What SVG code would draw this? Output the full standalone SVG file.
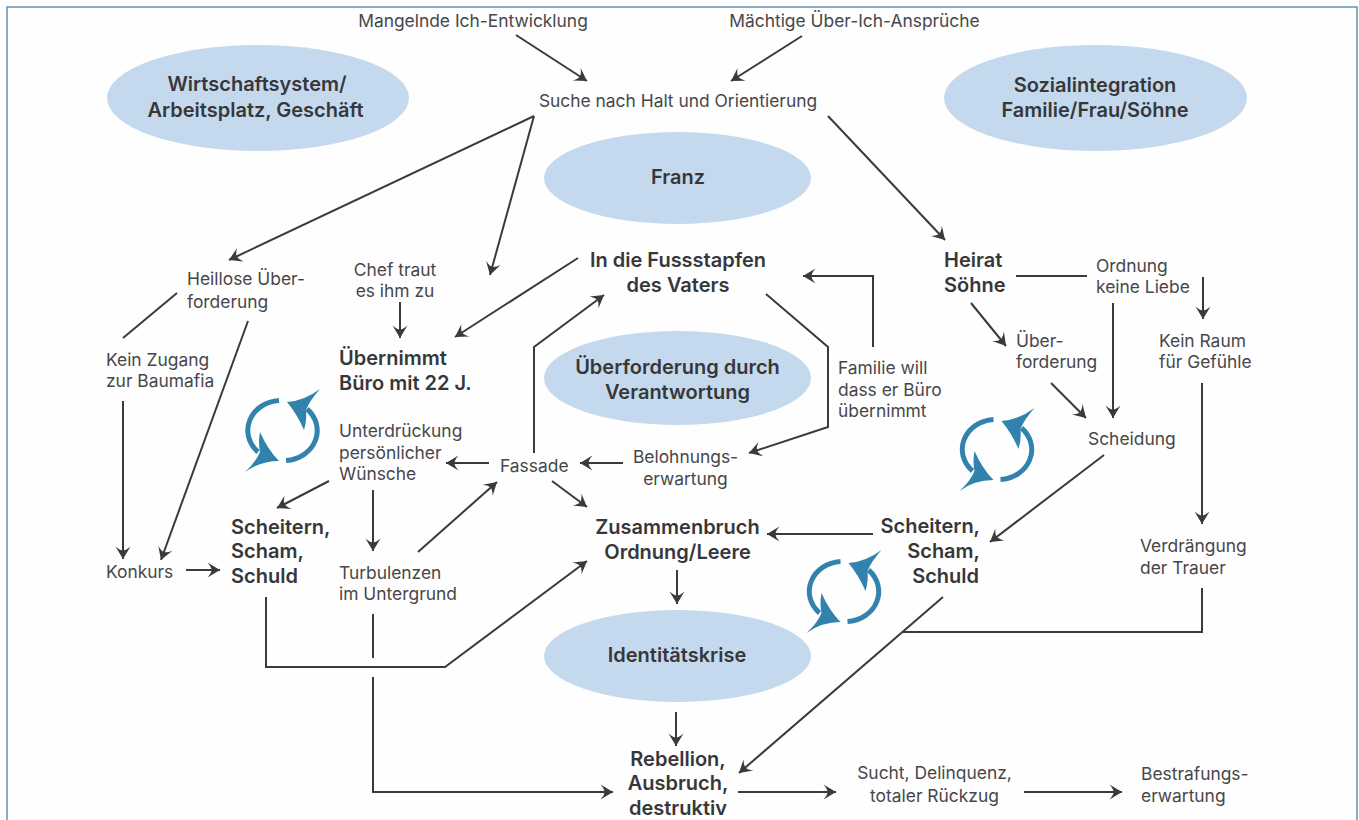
<svg xmlns="http://www.w3.org/2000/svg" width="1359" height="820" viewBox="0 0 1359 820">
<style>
text{font-family:"Inter","Liberation Sans",sans-serif;font-size:17.4px;fill:#47474a}
.b{font-weight:600;font-size:20px;fill:#37373a}
.m{text-anchor:middle}
.r{text-anchor:end}
.c line,.c polyline{fill:none;stroke:#3a3a3c;stroke-width:2}
.e{fill:#c4d9ed}
.ic path.s{fill:none;stroke:#3183ad;stroke-width:5}
.ic path.h{fill:#3183ad;stroke:none}
</style>
<defs>
<marker id="a" markerUnits="userSpaceOnUse" markerWidth="15" markerHeight="18" refX="13" refY="9" orient="auto"><path d="M13 9 L0.500 1.500 Q4.500 6 4.500 9 Q4.500 12 0.500 16.500 Z" fill="#3a3a3c"/></marker>
<g id="cycle" class="ic">
<path class="s" d="M-3 -29.500 A33.500 30 0 0 0 -24 22"/>
<path class="h" d="M-22 2 Q-14 20 -3 31 Q-22 31 -37 42 Q-26 32 -22 22 Q-24 12 -22 2 Z"/>
<path class="s" d="M4 30.500 A33.500 30 0 0 0 25 -21"/>
<path class="h" d="M5 -28 Q22 -29 38 -41 Q28 -30 24 -20 Q25 -10 22 0 Q15 -16 5 -28 Z"/>
</g>
</defs>
<rect width="1359" height="820" fill="#fefefe"/>
<rect id="frame" x="7" y="7" width="1350" height="830" fill="none" stroke="#5f93ae" stroke-width="1.500"/>
<g id="connectors" class="c">
<line x1="516" y1="35" x2="587" y2="81" marker-end="url(#a)"/>
<line x1="802" y1="36" x2="731" y2="81" marker-end="url(#a)"/>
<line x1="534" y1="116" x2="229" y2="260" marker-end="url(#a)"/>
<line x1="534" y1="116" x2="490" y2="275" marker-end="url(#a)"/>
<line x1="828" y1="116" x2="945" y2="240" marker-end="url(#a)"/>
<line x1="177" y1="293" x2="123" y2="338"/>
<line x1="248" y1="321" x2="161" y2="560" marker-end="url(#a)"/>
<line x1="123" y1="401" x2="123" y2="559" marker-end="url(#a)"/>
<line x1="186" y1="570" x2="220" y2="570" marker-end="url(#a)"/>
<line x1="400" y1="302" x2="400" y2="338" marker-end="url(#a)"/>
<line x1="578" y1="258" x2="455" y2="337" marker-end="url(#a)"/>
<polyline points="534,453 534,347 604,295" marker-end="url(#a)"/>
<line x1="489" y1="463" x2="446" y2="463" marker-end="url(#a)"/>
<line x1="623" y1="463" x2="580" y2="463" marker-end="url(#a)"/>
<polyline points="766,294 828,347 828,427 749,453" marker-end="url(#a)"/>
<polyline points="873,347 873,276 803,276" marker-end="url(#a)"/>
<line x1="552" y1="481" x2="587" y2="507" marker-end="url(#a)"/>
<line x1="329" y1="481" x2="277" y2="508" marker-end="url(#a)"/>
<line x1="373" y1="490" x2="373" y2="551" marker-end="url(#a)"/>
<line x1="418" y1="552" x2="497" y2="482" marker-end="url(#a)"/>
<polyline points="266,597 266,667 445,667 587,561" marker-end="url(#a)"/>
<line x1="373" y1="614" x2="373" y2="658"/>
<polyline points="373,677 373,792 613,792" marker-end="url(#a)"/>
<line x1="677" y1="570" x2="677" y2="604" marker-end="url(#a)"/>
<line x1="676" y1="712" x2="676" y2="746" marker-end="url(#a)"/>
<line x1="873" y1="534" x2="767" y2="534" marker-end="url(#a)"/>
<line x1="1104" y1="455" x2="990" y2="542" marker-end="url(#a)"/>
<line x1="943" y1="597" x2="739" y2="773" marker-end="url(#a)"/>
<polyline points="903,632 1202,632 1202,588"/>
<line x1="1202" y1="383" x2="1202" y2="524" marker-end="url(#a)"/>
<line x1="1203" y1="277" x2="1203" y2="319" marker-end="url(#a)"/>
<line x1="1016" y1="276" x2="1087" y2="276"/>
<line x1="1113" y1="303" x2="1113" y2="418" marker-end="url(#a)"/>
<line x1="971" y1="303" x2="1006" y2="346" marker-end="url(#a)"/>
<line x1="1051" y1="383" x2="1086" y2="418" marker-end="url(#a)"/>
<line x1="738" y1="792" x2="836" y2="792" marker-end="url(#a)"/>
<line x1="1024" y1="792" x2="1122" y2="792" marker-end="url(#a)"/>
</g>
<use id="cycle1" href="#cycle" x="282" y="430"/>
<use id="cycle2" href="#cycle" x="843.500" y="591"/>
<use id="cycle3" href="#cycle" x="996.500" y="449"/>
<g id="n-wirtschaft"><ellipse class="e" cx="258" cy="98" rx="151" ry="53"/><text class="b m" x="257" y="91">Wirtschaftsystem/</text><text class="b m" x="255.500" y="117">Arbeitsplatz, Geschäft</text></g>
<g id="n-sozial"><ellipse class="e" cx="1095.500" cy="98" rx="151.500" ry="53"/><text class="b m" x="1095" y="92">Sozialintegration</text><text class="b m" x="1095" y="117">Familie/Frau/Söhne</text></g>
<g id="n-franz"><ellipse class="e" cx="677.500" cy="178" rx="133.500" ry="46"/><text class="b m" x="678" y="184">Franz</text></g>
<g id="n-ueberforderung"><ellipse class="e" cx="677.500" cy="378" rx="133.500" ry="47"/><text class="b m" x="677.500" y="374">Überforderung durch</text><text class="b m" x="677.500" y="399">Verantwortung</text></g>
<g id="n-identitaet"><ellipse class="e" cx="677.500" cy="656" rx="133.500" ry="46"/><text class="b m" x="677" y="662">Identitätskrise</text></g>
<g id="n-mangel"><text class="m" x="473" y="27">Mangelnde Ich-Entwicklung</text></g>
<g id="n-maechtig"><text class="m" x="854.500" y="27">Mächtige Über-Ich-Ansprüche</text></g>
<g id="n-suche"><text class="m" x="678" y="107">Suche nach Halt und Orientierung</text></g>
<g id="n-fuss"><text class="b m" x="678" y="267">In die Fussstapfen</text><text class="b m" x="678" y="292">des Vaters</text></g>
<g id="n-heirat"><text class="b" x="944" y="267">Heirat</text><text class="b" x="944" y="292">Söhne</text></g>
<g id="n-ordnung"><text x="1096" y="272">Ordnung</text><text x="1096" y="293">keine Liebe</text></g>
<g id="n-raum"><text x="1159" y="347">Kein Raum</text><text x="1159" y="368">für Gefühle</text></g>
<g id="n-heillos"><text x="187" y="285">Heillose Über-</text><text x="187" y="308">forderung</text></g>
<g id="n-chef"><text class="m" x="395" y="276">Chef traut</text><text class="m" x="395" y="297">es ihm zu</text></g>
<g id="n-zugang"><text x="106" y="366">Kein Zugang</text><text x="106" y="387">zur Baumafia</text></g>
<g id="n-buero"><text class="b" x="339" y="365">Übernimmt</text><text class="b" x="339" y="390">Büro mit 22 J.</text></g>
<g id="n-unterdr"><text x="339" y="437">Unterdrückung</text><text x="339" y="459">persönlicher</text><text x="339" y="480">Wünsche</text></g>
<g id="n-fassade"><text x="500" y="472">Fassade</text></g>
<g id="n-belohnung"><text class="m" x="685.500" y="463">Belohnungs-</text><text class="m" x="685.500" y="485">erwartung</text></g>
<g id="n-familie"><text x="838" y="374">Familie will</text><text x="838" y="396">dass er Büro</text><text x="838" y="417">übernimmt</text></g>
<g id="n-ueber2"><text x="1016" y="347">Über-</text><text x="1016" y="368">forderung</text></g>
<g id="n-scheidung"><text x="1088" y="445">Scheidung</text></g>
<g id="n-zusammen"><text class="b m" x="677.500" y="534">Zusammenbruch</text><text class="b m" x="677.500" y="559">Ordnung/Leere</text></g>
<g id="n-scheitern1"><text class="b" x="231" y="534">Scheitern,</text><text class="b" x="231" y="558">Scham,</text><text class="b" x="231" y="583">Schuld</text></g>
<g id="n-scheitern2"><text class="b r" x="980" y="533">Scheitern,</text><text class="b r" x="980" y="558">Scham,</text><text class="b r" x="979" y="583">Schuld</text></g>
<g id="n-turb"><text x="339" y="579">Turbulenzen</text><text x="339" y="600">im Untergrund</text></g>
<g id="n-konkurs"><text x="106" y="578">Konkurs</text></g>
<g id="n-verdr"><text x="1140" y="552">Verdrängung</text><text x="1140" y="574">der Trauer</text></g>
<g id="n-rebellion"><text class="b m" x="678" y="766">Rebellion,</text><text class="b m" x="678" y="790">Ausbruch,</text><text class="b m" x="678" y="815">destruktiv</text></g>
<g id="n-sucht"><text class="m" x="934.500" y="779">Sucht, Delinquenz,</text><text class="m" x="934.500" y="802">totaler Rückzug</text></g>
<g id="n-bestraf"><text x="1141" y="780">Bestrafungs-</text><text x="1141" y="802">erwartung</text></g>
</svg>
